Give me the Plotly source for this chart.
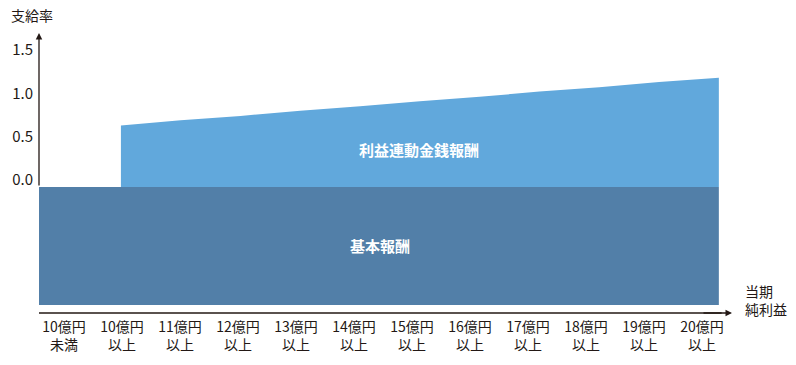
import plotly.graph_objects as go

# ---- data ----
categories = ["10億円<br>未満", "10億円<br>以上", "11億円<br>以上", "12億円<br>以上", "13億円<br>以上",
              "14億円<br>以上", "15億円<br>以上", "16億円<br>以上", "17億円<br>以上", "18億円<br>以上",
              "19億円<br>以上", "20億円<br>以上"]
profit_levels = [10, 11, 12, 13, 14, 15, 16, 17, 18, 19, 20]          # 億円
linked_rates = [0.71, 0.77, 0.82, 0.88, 0.93, 0.99, 1.04, 1.10, 1.15, 1.21, 1.26]
base_rate = -1.36
y_ticks = [0.0, 0.5, 1.0, 1.5]
y_tick_text = ["0.0", "0.5", "1.0", "1.5"]

# ---- layout settings ----
X_MIN, X_MAX = 8.63, 20.22
Y_MIN, Y_MAX = -1.453, 1.776
CAT_RANGE = [-0.431, 11.517]
FONT = "Noto Sans CJK JP, Noto Sans, sans-serif"
TXT = "#231815"
LIGHT = "#61A8DC"
DARK = "#527FA8"
PLOT_W, PLOT_H = 693, 280

fig = go.Figure()

# base compensation (dark)
fig.add_trace(go.Scatter(
    x=[X_MIN, profit_levels[-1]], y=[base_rate, base_rate],
    mode="lines", line=dict(width=0, color=DARK),
    fill="tozeroy", fillcolor=DARK, hoverinfo="skip", showlegend=False))

# profit-linked compensation (light)
fig.add_trace(go.Scatter(
    x=profit_levels, y=linked_rates,
    mode="lines", line=dict(width=0, color=LIGHT),
    fill="tozeroy", fillcolor=LIGHT, hoverinfo="skip", showlegend=False))

# invisible trace for category axis
fig.add_trace(go.Scatter(
    x=list(range(len(categories))), y=[None] * len(categories),
    xaxis="x2", mode="markers", hoverinfo="skip", showlegend=False))

zero_frac = (0 - Y_MIN) / (Y_MAX - Y_MIN)

fig.update_layout(
    width=796, height=365,
    margin=dict(l=39, r=64, t=33, b=52, autoexpand=False),
    paper_bgcolor="white", plot_bgcolor="white",
    font=dict(family=FONT, size=14, color=TXT),
    xaxis=dict(range=[X_MIN, X_MAX], showgrid=False, zeroline=False, showline=False,
               showticklabels=False, ticks="", fixedrange=True, automargin=False),
    xaxis2=dict(range=CAT_RANGE, overlaying="x", anchor="y", side="bottom",
                tickvals=list(range(len(categories))), ticktext=categories,
                showgrid=False, zeroline=False, showline=False, ticks="", automargin=False,
                tickfont=dict(family=FONT, size=14, color=TXT), ticklabelstandoff=4),
    yaxis=dict(range=[Y_MIN, Y_MAX], tickvals=y_ticks, ticktext=y_tick_text,
               showgrid=False, zeroline=False, showline=False, ticks="", automargin=False,
               ticklabelshift=-7, ticklabelstandoff=5,
               tickfont=dict(family=FONT, size=15, color=TXT)),
    shapes=[
        dict(type="line", xref="paper", yref="paper", x0=0, x1=0.985, y0=0, y1=0,
             line=dict(color=TXT, width=1.3)),
    ],
    annotations=[
        # y axis arrow
        dict(x=0, y=1, xref="paper", yref="paper", ax=0, ay=PLOT_H * (1 - zero_frac),
             axref="pixel", ayref="pixel",
             text="", showarrow=True, arrowhead=2, arrowsize=1, arrowwidth=1.3, arrowcolor=TXT),
        # x axis arrow head
        dict(x=1, y=0, xref="paper", yref="paper", ax=-30, ay=0, axref="pixel", ayref="pixel",
             text="", showarrow=True, arrowhead=2, arrowsize=1, arrowwidth=1.3, arrowcolor=TXT),
        dict(x=-0.0433, y=1.064, xref="paper", yref="paper", xanchor="left", yanchor="middle",
             text="支給率", showarrow=False, font=dict(size=14, color=TXT)),
        dict(x=1.0159, y=0.046, xref="paper", yref="paper", xanchor="left", yanchor="middle",
             align="left", text="当期<br>純利益", showarrow=False, font=dict(size=14, color=TXT)),
        dict(x=14.98, y=0.43, xref="x", yref="y", text="<b>利益連動金銭報酬</b>", showarrow=False,
             font=dict(size=15, color="white")),
        dict(x=14.33, y=-0.67, xref="x", yref="y", text="<b>基本報酬</b>", showarrow=False,
             font=dict(size=15, color="white")),
    ],
)

fig.write_html("out.html", config={"displayModeBar": False},
               post_script="document.body.style.margin='0px';")
